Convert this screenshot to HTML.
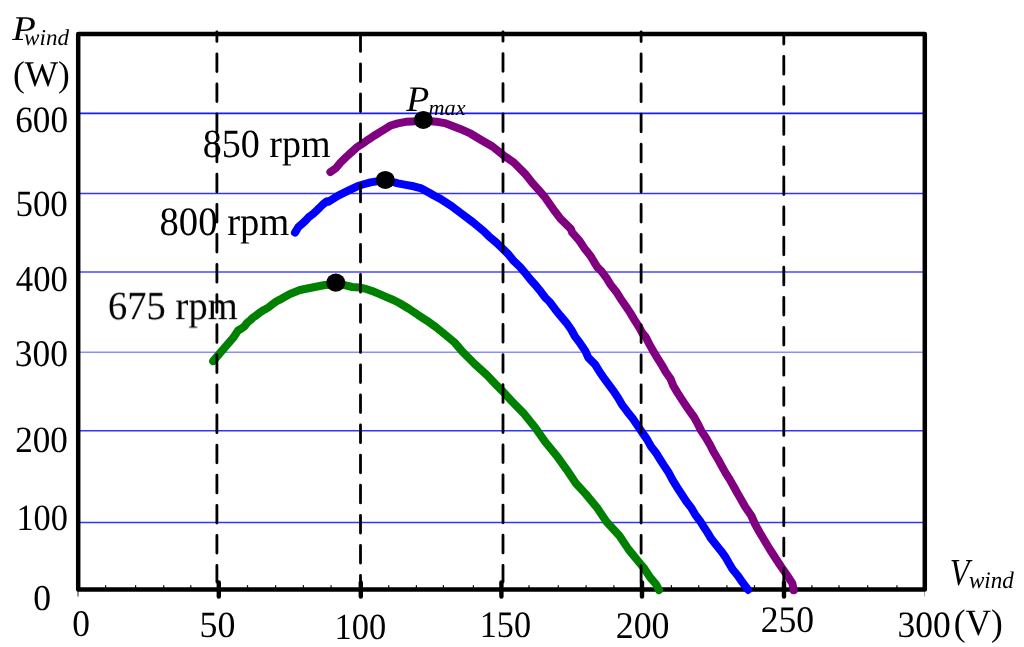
<!DOCTYPE html>
<html><head><meta charset="utf-8"><style>
html,body{margin:0;padding:0;background:#fff;width:1024px;height:647px;overflow:hidden}
svg{display:block}
text{font-family:"Liberation Serif",serif;fill:#000;text-rendering:geometricPrecision}
.t{will-change:transform}
</style></head><body>
<svg width="1024" height="647" viewBox="0 0 1024 647">
<rect width="1024" height="647" fill="#fff"/>
<g stroke="#0000ff">
<line x1="80" x2="923" y1="113.3" y2="113.3" stroke-width="1.7" stroke-opacity="0.9"/>
<line x1="80" x2="923" y1="193.5" y2="193.5" stroke-width="1.5" stroke-opacity="0.8"/>
<line x1="80" x2="923" y1="272.0" y2="272.0" stroke-width="1.6" stroke-opacity="0.72"/>
<line x1="80" x2="923" y1="352.3" y2="352.3" stroke-width="1.4" stroke-opacity="0.45"/>
<line x1="80" x2="923" y1="430.7" y2="430.7" stroke-width="1.4" stroke-opacity="0.8"/>
<line x1="80" x2="923" y1="522.5" y2="522.5" stroke-width="1.4" stroke-opacity="0.8"/>
</g>
<g stroke="#000" stroke-width="1.2">
<line x1="105.6" x2="105.6" y1="585.2" y2="588"/>
<line x1="135.6" x2="135.6" y1="585.2" y2="588"/>
<line x1="163.75" x2="163.75" y1="585.2" y2="588"/>
<line x1="190.8" x2="190.8" y1="585.2" y2="588"/>
<line x1="247.5" x2="247.5" y1="585.2" y2="588"/>
<line x1="275.6" x2="275.6" y1="585.2" y2="588"/>
<line x1="303.4" x2="303.4" y1="585.2" y2="588"/>
<line x1="331.1" x2="331.1" y1="585.2" y2="588"/>
<line x1="388.75" x2="388.75" y1="585.2" y2="588"/>
<line x1="416.4" x2="416.4" y1="585.2" y2="588"/>
<line x1="443.4" x2="443.4" y1="585.2" y2="588"/>
<line x1="473.4" x2="473.4" y1="585.2" y2="588"/>
<line x1="529" x2="529" y1="585.2" y2="588"/>
<line x1="558.3" x2="558.3" y1="585.2" y2="588"/>
<line x1="586.1" x2="586.1" y1="585.2" y2="588"/>
<line x1="613.9" x2="613.9" y1="585.2" y2="588"/>
<line x1="671.4" x2="671.4" y1="585.2" y2="588"/>
<line x1="698.75" x2="698.75" y1="585.2" y2="588"/>
<line x1="726.9" x2="726.9" y1="585.2" y2="588"/>
<line x1="754.5" x2="754.5" y1="585.2" y2="588"/>
<line x1="811.9" x2="811.9" y1="585.2" y2="588"/>
<line x1="839" x2="839" y1="585.2" y2="588"/>
<line x1="867.7" x2="867.7" y1="585.2" y2="588"/>
<line x1="896.9" x2="896.9" y1="585.2" y2="588"/>
</g>
<rect x="78.2" y="34" width="846.6" height="555.4" fill="none" stroke="#000" stroke-width="4.5" stroke-linejoin="round"/>
<g fill="none" stroke-linejoin="round" stroke-linecap="round" stroke-width="8">
<polyline stroke="#008000" points="213.1,361.1 219.1,354.1 226.6,345.4 233.1,337.9 238.1,330.5 241.2,328.7 244.3,326.5 247.4,322.5 250.5,320 253.5,317.2 256.6,315.1 259.7,312.6 262.8,310.6 265.9,308.9 269,307.1 272.1,304.4 275.2,302.2 278.3,300.3 281.4,298.8 290,294 300,290 309.8,288 319.8,286 325,285 335.8,284.6 345.5,285.3 352.3,287 359.2,287.5 366,288.9 372.8,291.3 379.7,294.1 386.5,297.1 393.4,300 399.3,303 408.5,308.5 417.8,314.8 427.1,320.8 436.4,327.5 445.6,335 454.9,342.8 462.4,351.7 474.7,364 487.1,375.2 497,385.7 503.2,391.9 511.8,401.2 524.2,413.9 535.3,427.8 545.1,441.7 556.6,455.7 566.6,469.6 576,483.5 585.6,493.9 597.1,507.8 606.5,521.7 619.4,535.7 628.7,549.6 640.1,563.5 643.8,567.8 649.9,577.1 656.2,584.5 659,590.1"/>
<polyline stroke="#0000ff" points="295,232.6 298.4,227 301.9,223.9 305.4,220.7 308.9,217 312.3,214.6 315.8,211.3 319.3,208 322.8,204.5 327,201.3 328.2,201.8 338.2,195.6 348.3,190.6 357.3,186.3 362.8,184.5 370.6,182.4 385.3,180 398,183.4 405.8,184.9 413.6,186.3 421.4,188.4 429.2,192.7 433.9,195.5 440.8,199.1 451.6,206.1 462.5,214.4 473.3,222.5 484.1,231.5 488.8,236.2 496.1,242.4 502.6,248.6 508.7,254.7 513.7,260.9 520.2,267.1 525.4,273.3 530.4,279.5 536,285.7 540.9,291.8 545.6,298 549.7,302 554.9,308.9 560.5,315.9 566.4,322.8 571.3,329.8 575.1,336.7 580.4,343.7 585.2,350.7 588.3,357.6 595.2,364.6 599.4,371.5 603.5,377.5 608.2,383.9 613.4,390.9 618,397.8 622.1,404.8 627.3,411.7 632.9,418.7 637.7,425.7 642.3,432.6 647.2,439.6 651,446.5 655.9,452.7 659.7,458.9 664.2,465.9 668.8,472.8 672.5,479.8 676.7,486.7 681.3,493.7 685.8,500.7 691.1,507.6 695.2,514.6 700.4,521.5 703.3,526.2 707.4,532.4 711.1,538.6 716,544.7 721,550.9 725.5,557.1 729,563.3 732.7,569.5 737.9,575.7 742,581.8 748.2,589.9"/>
<polyline stroke="#800080" points="330.4,172 335.8,168.3 341.2,161.8 346.6,156.6 352,151.7 357.5,146.8 362.9,143.4 368.3,139.6 373.7,136 379.1,132.6 384.5,129.3 390,125.8 397.8,123.4 405.6,121.8 411.9,121.4 423.3,120.8 436.9,121.8 444.7,123.1 452.5,125.9 460.2,128.9 470.8,133.7 481.6,140.2 492.5,146.5 503.3,155.2 514.1,162.7 524.9,173.6 527.7,177 533.2,183.9 539.5,190.9 545.3,197.8 550.2,204.8 555.1,211.7 560.4,218.7 570.8,228.9 572.3,232.7 575.8,236.6 579.1,240.4 581.8,244.3 584.3,248.2 587.4,252 590.5,255.9 592.8,259.7 595.1,263.6 597.6,267.5 601.2,270.9 606.4,277.8 610.6,284.8 616.2,291.7 620.6,298.7 625.5,305.7 630.1,312.6 634.3,319.6 638.7,326.5 642.6,333.5 645.7,337 649.2,343.9 653.1,350.9 657.3,357.8 661.7,364.8 665.6,371.7 670.5,378.7 673.3,385.7 677.4,392.6 681.9,399.6 686.5,406.5 690.3,412 694,417 697.8,423.9 701.3,430.9 705.9,437.8 710,444.8 713.5,451.7 717.7,458.7 721.5,465.7 725.4,472.6 729.8,479.6 733.7,486.5 737,492.5 740.5,498.5 745.3,507 751.2,515.5 755,524 759.7,532.5 764.8,541 769.9,549.5 775.4,558 781,566.5 786.9,575 792.4,583.4 793.7,590.2"/>
</g>
<g stroke="#000" stroke-width="2.8" stroke-linecap="round">
<line x1="216.9" x2="216.9" y1="31.8" y2="582" stroke-dasharray="17.70 12.40" stroke-dashoffset="8.10"/>
<line x1="360.5" x2="360.5" y1="34" y2="582" stroke-dasharray="17.70 12.40" stroke-dashoffset="0.30"/>
<line x1="503" x2="503" y1="31.8" y2="582" stroke-dasharray="17.70 12.40" stroke-dashoffset="8.30"/>
<line x1="641.1" x2="641.1" y1="31.8" y2="582" stroke-dasharray="17.70 12.40" stroke-dashoffset="8.00"/>
<line x1="783.8" x2="783.8" y1="34" y2="582" stroke-dasharray="17.70 12.40" stroke-dashoffset="7.60"/>
</g>
<g stroke="#000" stroke-width="4.4" stroke-linecap="round">
<line x1="218.8" x2="218.8" y1="582.5" y2="596.5"/>
<line x1="360.8" x2="360.8" y1="582.5" y2="596.5"/>
<line x1="501.4" x2="501.4" y1="582.5" y2="596.5"/>
<line x1="642" x2="642" y1="582.5" y2="596.5"/>
<line x1="784" x2="784" y1="582.5" y2="596.5"/>
</g>
<line x1="78" x2="78" y1="591" y2="596.5" stroke="#000" stroke-opacity="0.75" stroke-width="1.1"/>
<line x1="924.5" x2="924.5" y1="591" y2="596.5" stroke="#000" stroke-opacity="0.35" stroke-width="1"/>
<g fill="#000">
<ellipse cx="335.8" cy="282.65" rx="9.6" ry="9.15"/>
<ellipse cx="385.3" cy="179.9" rx="9.55" ry="9"/>
<ellipse cx="423.3" cy="119.9" rx="9.5" ry="9"/>
</g>
<g class="t">
<text transform="translate(12.366 40.372) scale(1.1181 1) rotate(0.01)" font-size="34.632" font-style="italic">P</text>
<text transform="translate(24.078 45.389) scale(1.0152 1) rotate(0.01)" font-size="22.774" font-style="italic">wind</text>
<text transform="translate(12.991 86.246) scale(0.9781 1) rotate(0.01)" font-size="36.107">(W)</text>
<text transform="translate(15.246 131.879) scale(0.9465 1) rotate(0.01)" font-size="37.181">600</text>
<text transform="translate(15.434 216.455) scale(0.9469 1) rotate(0.01)" font-size="36.903">500</text>
<text transform="translate(15.868 291.453) scale(0.9536 1) rotate(0.01)" font-size="36.389">400</text>
<text transform="translate(14.822 365.617) scale(0.9391 1) rotate(0.01)" font-size="37.660">300</text>
<text transform="translate(15.127 452.452) scale(0.9490 1) rotate(0.01)" font-size="37.023">200</text>
<text transform="translate(16.411 530.141) scale(0.9277 1) rotate(0.01)" font-size="37.017">100</text>
<text transform="translate(33.182 609.746) scale(0.9728 1) rotate(0.01)" font-size="36.563">0</text>
<text transform="translate(72.340 635.699) scale(0.9415 1) rotate(0.01)" font-size="37.581">0</text>
<text transform="translate(199.583 636.864) scale(0.9718 1) rotate(0.01)" font-size="36.897">50</text>
<text transform="translate(334.520 638.744) scale(0.9316 1) rotate(0.01)" font-size="36.905">100</text>
<text transform="translate(479.809 637.041) scale(0.9137 1) rotate(0.01)" font-size="37.342">150</text>
<text transform="translate(615.703 638.040) scale(0.9493 1) rotate(0.01)" font-size="37.786">200</text>
<text transform="translate(760.709 632.081) scale(0.9481 1) rotate(0.01)" font-size="37.566">250</text>
<text transform="translate(897.527 637.048) scale(0.9569 1) rotate(0.01)" font-size="37.100">300</text>
<text transform="translate(953.784 634.542) scale(0.9513 1) rotate(0.01)" font-size="37.184">(V)</text>
<text transform="translate(949.852 584.811) scale(0.8399 1) rotate(0.01)" font-size="38.341" font-style="italic">V</text>
<text transform="translate(968.963 588.458) scale(0.9727 1) rotate(0.01)" font-size="23.756" font-style="italic">wind</text>
<text transform="translate(202.677 157.286) scale(0.9509 1) rotate(0.01)" font-size="40.062">850 rpm</text>
<text transform="translate(159.544 234.561) scale(0.9622 1) rotate(0.01)" font-size="40.168">800 rpm</text>
<text transform="translate(107.918 319.170) scale(0.9609 1) rotate(0.01)" font-size="40.194">675 rpm</text>
<text transform="translate(406.354 110.832) scale(1.0477 1) rotate(0.01)" font-size="35.968" font-style="italic">P</text>
<text transform="translate(428.481 115.225) scale(1.0145 1) rotate(0.01)" font-size="21.935" font-style="italic">max</text>
</g>
</svg>
</body></html>
